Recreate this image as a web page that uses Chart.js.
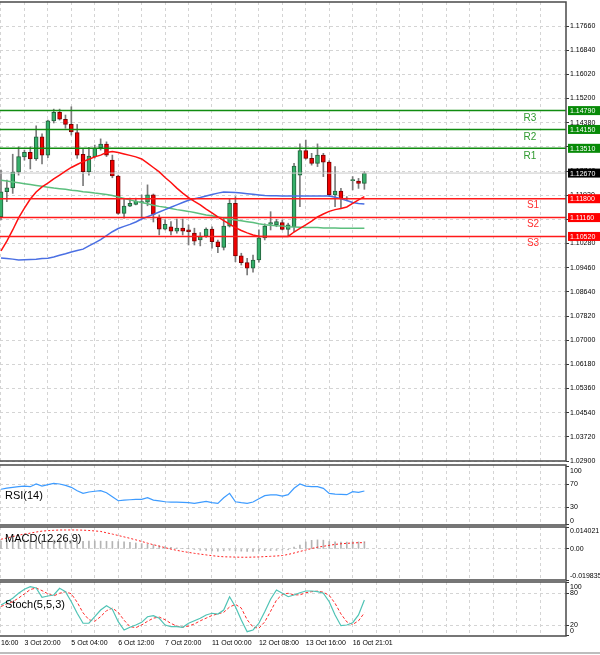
<!DOCTYPE html>
<html>
<head>
<meta charset="utf-8">
<title>EURUSD H4</title>
<script src="https://cdn.jsdelivr.net/npm/chart.js"></script>
<style>
  body { margin:0; background:#fff; }
  #wrap { position:relative; width:600px; height:655px; overflow:hidden; }
  #wrap canvas { position:absolute; left:0; }
</style>
</head>
<body>
<div id="wrap">
  <canvas id="main" width="600" height="470" style="top:0"></canvas>
  <canvas id="rsi" width="600" height="80" style="top:455px"></canvas>
  <canvas id="macd" width="600" height="70" style="top:517px"></canvas>
  <canvas id="stoch" width="600" height="83" style="top:572px"></canvas>
</div>
<script>
// H4 candles, oldest first
var open = [1.1119,1.1204,1.1217,1.1270,1.1322,1.1337,1.1315,1.1390,1.1328,1.1444,
  1.1473,1.1449,1.1432,1.1404,1.1331,1.1272,1.1323,1.1353,1.1365,1.1311,
  1.1257,1.1130,1.1155,1.1161,1.1166,1.1168,1.1193,1.1114,1.1077,1.1085,
  1.1070,1.1080,1.1074,1.1063,1.1040,1.1053,1.1077,1.1034,1.1015,1.1087,
  1.1164,1.0986,1.0963,1.0944,1.0972,1.1047,1.1094,1.1091,1.1099,1.1076,
  1.1085,1.1260,1.1343,1.1317,1.1300,1.1328,1.1304,1.1193,1.1206,1.1180,
  1.1241,1.1240,1.1232]
var high = [1.1277,1.1243,1.1331,1.1356,1.1345,1.1356,1.1427,1.1400,1.1447,1.1484,
  1.1484,1.1464,1.1492,1.1432,1.1351,1.1354,1.1362,1.1383,1.1373,1.1328,
  1.1260,1.1181,1.1182,1.1182,1.1193,1.1227,1.1196,1.1125,1.1108,1.1102,
  1.1111,1.1111,1.1091,1.1080,1.1065,1.1081,1.1085,1.1040,1.1114,1.1181,
  1.1187,1.0995,1.0978,1.0989,1.1074,1.1095,1.1136,1.1110,1.1108,1.1097,
  1.1300,1.1366,1.1379,1.1334,1.1366,1.1334,1.1309,1.1289,1.1215,1.1187,
  1.1255,1.1249,1.1272]
var low = [1.1108,1.1170,1.1198,1.1260,1.1311,1.1281,1.1310,1.1298,1.1319,1.1437,
  1.1447,1.1419,1.1396,1.1317,1.1224,1.1260,1.1318,1.1345,1.1323,1.1251,
  1.1127,1.1114,1.1153,1.1159,1.1119,1.1156,1.1101,1.1057,1.1074,1.1057,
  1.1063,1.1057,1.1023,1.1023,1.1020,1.1049,1.1012,1.0997,1.1006,1.1084,
  1.0966,1.0955,1.0921,1.0931,1.0965,1.1040,1.1074,1.1085,1.1074,1.1053,
  1.1068,1.1153,1.1314,1.1294,1.1289,1.1255,1.1187,1.1153,1.1147,1.1173,
  1.1210,1.1215,1.1212]
var close = [1.1203,1.1217,1.1270,1.1323,1.1337,1.1315,1.1390,1.1328,1.1444,1.1473,
  1.1450,1.1432,1.1407,1.1328,1.1272,1.1325,1.1351,1.1365,1.1328,1.1257,
  1.1130,1.1155,1.1164,1.1172,1.1170,1.1193,1.1127,1.1077,1.1093,1.1070,
  1.1080,1.1070,1.1068,1.1036,1.1053,1.1077,1.1034,1.1017,1.1087,1.1164,
  1.0986,1.0963,1.0944,1.0972,1.1047,1.1087,1.1099,1.1102,1.1076,1.1091,
  1.1291,1.1343,1.1317,1.1300,1.1328,1.1304,1.1193,1.1206,1.1179,1.1182,
  1.1245,1.1232,1.1267]

// moving averages
var maRed = [1.1003,1.1036,1.1074,1.1115,1.1148,1.1179,1.1203,1.1220,1.1233,1.1247,
  1.1260,1.1274,1.1286,1.1296,1.1306,1.1314,1.1322,1.1328,1.1337,1.1340,
  1.1337,1.1332,1.1327,1.1322,1.1315,1.1301,1.1286,1.1271,1.1252,1.1235,
  1.1216,1.1199,1.1184,1.1171,1.1159,1.1145,1.1132,1.1118,1.1106,1.1094,
  1.1082,1.1072,1.1064,1.1057,1.1053,1.1052,1.1052,1.1052,1.1052,1.1052,
  1.1067,1.1079,1.1091,1.1104,1.1118,1.1128,1.1137,1.1143,1.1147,1.1152,
  1.1164,1.1176,1.1187]
var maBlue = [1.0979,1.0977,1.0975,1.0972,1.0973,1.0974,1.0975,1.0977,1.0978,1.0982,
  1.0988,1.0993,1.0999,1.1004,1.1009,1.1020,1.1030,1.1041,1.1055,1.1068,
  1.1079,1.1086,1.1093,1.1101,1.1111,1.1119,1.1127,1.1135,1.1143,1.1151,
  1.1159,1.1167,1.1175,1.1180,1.1184,1.1189,1.1194,1.1199,1.1203,1.1202,
  1.1201,1.1199,1.1197,1.1195,1.1193,1.1191,1.1190,1.1190,1.1189,1.1189,
  1.1189,1.1189,1.1189,1.1189,1.1189,1.1189,1.1189,1.1185,1.1180,1.1174,
  1.1167,1.1164,1.1162]
var maGreen = [1.1243,1.1240,1.1237,1.1234,1.1231,1.1228,1.1225,1.1222,1.1219,1.1216,
  1.1214,1.1212,1.1209,1.1207,1.1204,1.1202,1.1199,1.1197,1.1194,1.1191,
  1.1186,1.1181,1.1176,1.1171,1.1167,1.1163,1.1158,1.1154,1.1151,1.1147,
  1.1143,1.1140,1.1137,1.1133,1.1129,1.1125,1.1122,1.1118,1.1115,1.1111,
  1.1108,1.1105,1.1102,1.1099,1.1095,1.1092,1.1090,1.1088,1.1087,1.1085,
  1.1084,1.1083,1.1082,1.1082,1.1082,1.1081,1.1081,1.1081,1.1080,1.1080,
  1.1080,1.1080,1.1080]

// indicators
var rsi = [61,63,64.3,65.4,66.5,65.4,70,66.5,68.8,71.2,
  70,67.6,64.3,58.5,54,56.3,57.6,58.5,55,48.2,
  41.3,42.4,43,43.7,43.7,46.5,42.5,41,39.6,39.1,
  39.1,38.5,38,36.9,38.5,40.3,38,36.9,46.5,54,
  39.6,38,36.9,39.1,44.8,50,51.2,51.2,49.4,51.7,
  62.6,70,66.5,65.4,65.4,62.6,54,52.8,52.3,51.7,
  56.8,55.8,58]
var macdHist = [0.0050,0.0053,0.0055,0.0056,0.0054,0.0052,0.0055,0.0053,0.0056,0.0057,
  0.0055,0.0053,0.0052,0.0050,0.0049,0.0050,0.0051,0.0050,0.0049,0.0048,
  0.0047,0.0045,0.0042,0.0038,0.0034,0.0030,0.0026,0.0020,0.0015,0.0010,
  0.0006,0.0003,0.0001,-0.0002,-0.0008,-0.0010,-0.0012,-0.0014,-0.0012,-0.0008,
  -0.0012,-0.0014,-0.0015,-0.0015,-0.0013,-0.0011,-0.0010,-0.0009,-0.0008,-0.0005,
  0.0012,0.0024,0.0045,0.0055,0.0058,0.0056,0.0048,0.0046,0.0044,0.0044,
  0.0046,0.0045,0.0047]
var macdSignal = [0.0062,0.0070,0.0079,0.0088,0.0095,0.0101,0.0108,0.0114,0.0117,0.0119,
  0.0121,0.0121,0.0121,0.0121,0.0120,0.0118,0.0115,0.0112,0.0103,0.0095,
  0.0086,0.0077,0.0068,0.0058,0.0048,0.0037,0.0027,0.0018,0.0008,-0.0001,
  -0.0009,-0.0016,-0.0022,-0.0028,-0.0033,-0.0038,-0.0043,-0.0047,-0.0050,-0.0051,
  -0.0052,-0.0053,-0.0053,-0.0052,-0.0051,-0.0049,-0.0047,-0.0045,-0.0042,-0.0035,
  -0.0026,-0.0016,-0.0007,0.0003,0.0011,0.0017,0.0023,0.0029,0.0033,0.0036,
  0.0038,0.0040,0.0040]
var stochMain = [57.8,64,70.5,80,87.5,92.4,90,72.4,74.9,76.7,
  89.4,83,64,42.2,23.3,23.3,35.7,48.4,56.5,49.7,
  26.3,10.6,15.7,20,25.1,35.7,37.6,32.7,20,16.8,
  16.8,15.7,23.3,28.2,32.7,39,42.2,40.8,48.4,73.5,
  54.6,29.5,7.4,10.6,23.3,45.2,68.6,86.2,80,73.5,
  76.7,81,84.3,84.3,83,80,64,39,18.7,20,
  24.4,39,67.3]
var stochSignal = [55,60,64,71,79,87,90,85,79,75,
  80,83,79,63,43,30,27,36,47,52,
  44,29,17,15,20,27,33,35,30,23,
  18,16,18,22,28,33,38,41,44,54,
  59,52,30,16,14,26,46,67,78,80,
  77,77,81,83,84,82,76,61,41,26,
  21,28,43]

// pivot levels and last price
var resLevels = [1.1479, 1.1415, 1.1351]
var resNames = ['R3', 'R2', 'R1']
var supLevels = [1.1180, 1.1116, 1.1052]
var supNames = ['S1', 'S2', 'S3']
var lastPrice = 1.1267

// axes
var priceTicks = [1.0290,1.0372,1.0454,1.0536,1.0618,1.0700,1.0782,1.0864,1.0946,1.1028,
  1.1110,1.1192,1.1274,1.1356,1.1438,1.1520,1.1602,1.1684,1.1766]
var gridIdx = [0,4,8,12,16,20,24,28,32,36,40,44,48,52,56,60,64,68,72,76,80,84,88,92]
var xTickIdx = [0, 4, 12, 20, 28, 36, 44, 52, 60]
var xTickText = ['16:00','3 Oct 20:00','5 Oct 04:00','6 Oct 12:00','7 Oct 20:00',
  '11 Oct 00:00','12 Oct 08:00','13 Oct 16:00','16 Oct 21:01']
var rsiTicks = [0, 30, 70, 100]
var rsiText = [['0', ''], '30', '70', ['', '100']]
var macdTicks = [-0.019835, 0, 0.014021]
var macdText = [['-0.019835', ''], '0.00', ['', '0.014021']]
var stochTicks = [0, 20, 80, 100]
var stochText = [['0', ''], '20', '80', ['', '100']]

Chart.defaults.font.family = "'Liberation Sans', Arial, sans-serif"
Chart.defaults.animation = false

var xMin = -0.17, xMax = 96.4
var gridCol = '#d4d4d4'
var fontName = "'Liberation Sans', Arial, sans-serif"

function pts(arr) { return arr.map(function(v, i) { return { x: i, y: v } }) }
function flat(v) { return [{ x: xMin, y: v }, { x: xMax, y: v }] }

function xAxis(labels) {
  return {
    type: 'linear', min: xMin, max: xMax, offset: false,
    grid: { color: gridCol, drawTicks: false, offset: false },
    border: { display: false, dash: [3, 3] },
    ticks: labels ? {
      autoSkip: false, maxRotation: 0, align: 'start', padding: 3, color: '#000',
      font: { size: 7 },
      callback: function(v) { var k = xTickIdx.indexOf(v); return k < 0 ? '' : xTickText[k] }
    } : { display: false },
    afterBuildTicks: function(s) { s.ticks = gridIdx.map(function(v) { return { value: v } }) },
    afterFit: function(s) { s.paddingLeft = 0; s.paddingRight = 0; s.height = labels ? 12 : 0 }
  }
}

function yAxis(min, max, ticks, text, gridOn) {
  return {
    type: 'linear', position: 'right', min: min, max: max,
    grid: {
      color: function(c) { return c.tick && gridOn.indexOf(c.tick.value) >= 0 ? gridCol : 'rgba(0,0,0,0)' },
      tickColor: '#333', tickLength: 3, tickBorderDash: []
    },
    border: { display: false, dash: [3, 3] },
    ticks: { autoSkip: false, padding: 1, color: '#000', font: { size: 7 },
      callback: function(v, i) { return text[i] } },
    afterBuildTicks: function(s) { s.ticks = ticks.map(function(v) { return { value: v } }) },
    afterFit: function(s) { s.width = 34; s.paddingTop = 0; s.paddingBottom = 0 }
  }
}

var frame = {
  id: 'frame',
  afterDraw: function(chart) {
    var a = chart.chartArea, c = chart.ctx
    c.save()
    c.strokeStyle = '#4a4a4a'
    c.lineWidth = 1.5
    c.beginPath()
    c.moveTo(0, a.top); c.lineTo(a.right, a.top); c.lineTo(a.right, a.bottom); c.lineTo(0, a.bottom)
    c.stroke()
    c.restore()
  }
}

function paneName(text, dy) {
  return {
    id: 'paneName',
    afterDraw: function(chart) {
      var c = chart.ctx, a = chart.chartArea
      c.save()
      c.font = '11px ' + fontName
      c.fillStyle = '#000'
      c.textBaseline = 'middle'
      c.fillText(text, a.left + 5, a.top + dy)
      c.restore()
    }
  }
}

var levelText = {
  id: 'levelText',
  afterDraw: function(chart) {
    var c = chart.ctx, a = chart.chartArea, ys = chart.scales.y
    c.save()
    c.font = '10px ' + fontName
    c.textAlign = 'center'
    c.textBaseline = 'middle'
    c.fillStyle = '#2f9a2f'
    resLevels.forEach(function(v, k) { c.fillText(resNames[k], a.right - 36, ys.getPixelForValue(v) + 8) })
    c.fillStyle = '#ff3030'
    supLevels.forEach(function(v, k) { c.fillText(supNames[k], a.right - 33, ys.getPixelForValue(v) + 7) })

    c.font = '7px ' + fontName
    c.textAlign = 'left'
    function box(v, bg) {
      var y = ys.getPixelForValue(v)
      c.fillStyle = bg
      c.fillRect(a.right + 2, y - 4.5, 32, 9)
      c.fillStyle = '#fff'
      c.fillText(v.toFixed(5), a.right + 4, y + 0.5)
    }
    resLevels.forEach(function(v) { box(v, '#078a07') })
    supLevels.forEach(function(v) { box(v, '#ff0000') })
    box(lastPrice, '#000')
    c.restore()
  }
}

var baseOpts = function(pad, scales) {
  return {
    responsive: false, devicePixelRatio: 1, animation: false,
    layout: { padding: pad },
    plugins: { legend: { display: false }, tooltip: { enabled: false } },
    scales: scales
  }
}

// main price chart
var mainSets = [
  { type: 'bar', data: close.map(function(v, i) { return { x: i, y: [low[i], high[i]] } }),
    backgroundColor: '#7a7a7a', barThickness: 1, grouped: false, order: 11 },
  { type: 'bar', data: close.map(function(v, i) { return { x: i, y: [open[i], close[i]] } }),
    backgroundColor: close.map(function(v, i) { return v >= open[i] ? '#35b06a' : '#f00000' }),
    borderColor: close.map(function(v, i) { return v >= open[i] ? '#24613c' : '#7a0000' }),
    borderWidth: 1, borderSkipped: false, barThickness: 4, grouped: false, order: 10 },
  { type: 'line', data: flat(lastPrice), borderColor: '#c8c8c8', borderWidth: 1, pointRadius: 0, order: 9 },
  { type: 'line', data: pts(maGreen), borderColor: '#5cbf7e', borderWidth: 1.5, pointRadius: 0, order: 5 },
  { type: 'line', data: pts(maBlue), borderColor: '#4a6fe3', borderWidth: 1.5, pointRadius: 0, order: 4 },
  { type: 'line', data: pts(maRed), borderColor: '#ff1010', borderWidth: 1.5, pointRadius: 0, order: 3 }
]
resLevels.forEach(function(v) {
  mainSets.push({ type: 'line', data: flat(v), borderColor: '#108c10', borderWidth: 1.5, pointRadius: 0, order: 1 })
})
supLevels.forEach(function(v) {
  mainSets.push({ type: 'line', data: flat(v), borderColor: '#ff1a1a', borderWidth: 1.5, pointRadius: 0, order: 1 })
})

new Chart(document.getElementById('main'), {
  type: 'line',
  data: { datasets: mainSets },
  options: baseOpts({ top: 2, bottom: 9, left: 0, right: 0 }, {
    x: xAxis(false),
    y: yAxis(1.0290, 1.18475, priceTicks, priceTicks.map(function(v) { return v.toFixed(5) }), priceTicks)
  }),
  plugins: [frame, levelText]
})

// RSI
new Chart(document.getElementById('rsi'), {
  type: 'line',
  data: { datasets: [
    { data: pts(rsi), borderColor: '#3d9bff', borderWidth: 1.2, pointRadius: 0 }
  ] },
  options: baseOpts({ top: 10, bottom: 10, left: 0, right: 0 }, {
    x: xAxis(false),
    y: yAxis(-0.3, 102.6, rsiTicks, rsiText, [30, 70])
  }),
  plugins: [frame, paneName('RSI(14)', 31)]
})

// MACD
new Chart(document.getElementById('macd'), {
  type: 'line',
  data: { datasets: [
    { type: 'line', data: pts(macdSignal), borderColor: '#ff2020', borderWidth: 1, borderDash: [2, 2], pointRadius: 0, order: 1 },
    { type: 'bar', data: pts(macdHist), backgroundColor: '#b4b4b4', barThickness: 1, grouped: false, order: 2 }
  ] },
  options: baseOpts({ top: 10, bottom: 7, left: 0, right: 0 }, {
    x: xAxis(false),
    y: yAxis(-0.019835, 0.014021, macdTicks, macdText, [0])
  }),
  plugins: [frame, paneName('MACD(12,26,9)', 12)]
})

// Stochastic
var bottomLine = {
  id: 'bottomLine',
  afterDraw: function(chart) {
    var c = chart.ctx
    c.save()
    c.fillStyle = '#bdbdbd'
    c.fillRect(0, chart.height - 3, chart.width, 2)
    c.restore()
  }
}
new Chart(document.getElementById('stoch'), {
  type: 'line',
  data: { datasets: [
    { data: pts(stochSignal), borderColor: '#ff2a2a', borderWidth: 1, borderDash: [3, 2], pointRadius: 0, order: 2 },
    { data: pts(stochMain), borderColor: '#4fc3b5', borderWidth: 1.2, pointRadius: 0, order: 1 }
  ] },
  options: baseOpts({ top: 10, bottom: 7, left: 0, right: 0 }, {
    x: xAxis(true),
    y: yAxis(-0.75, 101.3, stochTicks, stochText, [20, 80])
  }),
  plugins: [frame, paneName('Stoch(5,5,3)', 23), bottomLine]
})
</script>
</body>
</html>
